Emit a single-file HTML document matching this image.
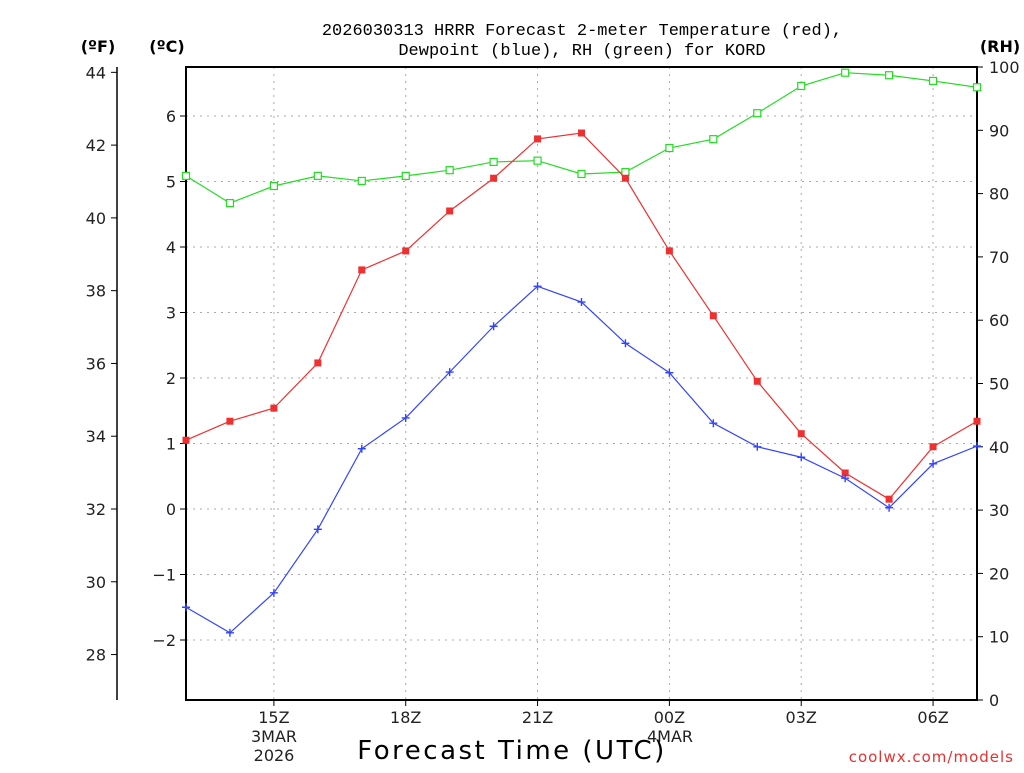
<!DOCTYPE html>
<html><head><meta charset="utf-8"><style>
body{margin:0;background:#fff;width:1024px;height:768px;overflow:hidden}
svg{font-family:"DejaVu Sans","Liberation Sans",sans-serif}
</style></head><body>
<svg id="c" width="1024" height="768" xmlns="http://www.w3.org/2000/svg">
<text x="582" y="35" font-size="17" font-family="Liberation Mono, monospace" text-anchor="middle">2026030313 HRRR Forecast 2-meter Temperature (red),</text>
<text x="582" y="55" font-size="17" font-family="Liberation Mono, monospace" text-anchor="middle">Dewpoint (blue), RH (green) for KORD</text>
<text x="98" y="52" font-size="16" font-weight="bold" text-anchor="middle">(ºF)</text>
<text x="167" y="52" font-size="16" font-weight="bold" text-anchor="middle">(ºC)</text>
<text x="1000" y="52" font-size="16" font-weight="bold" text-anchor="middle">(RH)</text>
<text x="512" y="759" font-size="26" text-anchor="middle" letter-spacing="2.5">Forecast Time (UTC)</text>
<text x="1014" y="762" font-size="15" fill="#e83030" text-anchor="end" letter-spacing="1">coolwx.com/models</text>
<g id="g"></g>
</svg>
<script>
const hours = [0,1,2,3,4,5,6,7,8,9,10,11,12,13,14,15,16,17,18];
const tempC = [1.05,1.34,1.54,2.23,3.65,3.94,4.55,5.05,5.65,5.74,5.05,3.94,2.95,1.95,1.15,0.55,0.15,0.95,1.34];
const dewC = [-1.5,-1.89,-1.28,-0.31,0.92,1.39,2.09,2.79,3.40,3.16,2.53,2.08,1.31,0.95,0.79,0.47,0.02,0.69,0.96];
const rh = [82.8,78.5,81.2,82.8,82.0,82.8,83.7,85.0,85.2,83.1,83.4,87.2,88.6,92.7,97.0,99.1,98.7,97.8,96.8];
const cTicks = [-2,-1,0,1,2,3,4,5,6];
const fTicks = [28,30,32,34,36,38,40,42,44];
const rhTicks = [0,10,20,30,40,50,60,70,80,90,100];
const xTickHours = [2,5,8,11,14,17];
const xTickLabels = ["15Z","18Z","21Z","00Z","03Z","06Z"];
const L=186,R=977,T=67,B=700;
const xs=h=>L+h*(R-L)/18;
const yc=c=>509-c*65.5;
const yf=f=>yc((f-32)*5/9);
const yr=r=>B-r*(B-T)/100;
const NS="http://www.w3.org/2000/svg";
const g=document.getElementById('g');
function mk(t,a){const e=document.createElementNS(NS,t);for(const k in a)e.setAttribute(k,a[k]);g.appendChild(e);return e;}
cTicks.forEach(c=>{const e=mk('line',{x1:L,x2:R,y1:yc(c),y2:yc(c),stroke:'#aaa','stroke-dasharray':'2,5'});

});
xTickHours.forEach((h,i)=>{const e=mk('line',{x1:xs(h),x2:xs(h),y1:T,y2:B,stroke:'#aaa','stroke-dasharray':'2,5'});


const t=mk('line',{x1:xs(h),x2:xs(h),y1:B,y2:B+6,stroke:'#000'});


const l=mk('text',{x:xs(h),y:723,'font-size':16,'text-anchor':'middle',fill:'#222'});l.textContent=xTickLabels[i];

});
[["3MAR",274,742],["2026",274,761],["4MAR",670,742]].forEach(d=>{const l=mk('text',{x:d[1],y:d[2],'font-size':16,'text-anchor':'middle',fill:'#222'});l.textContent=d[0];

});
cTicks.forEach(c=>{const t=mk('line',{x1:L-6,x2:L,y1:yc(c),y2:yc(c),stroke:'#000'});


const l=mk('text',{x:L-10,y:yc(c)+6,'font-size':16,'text-anchor':'end',fill:'#222'});l.textContent=c<0?'\u2212'+(-c):c;

});
const fa=mk('line',{x1:117,x2:117,y1:T,y2:B,stroke:'#000','stroke-width':1.5});


fTicks.forEach(f=>{const t=mk('line',{x1:111,x2:117,y1:yf(f),y2:yf(f),stroke:'#000'});


const l=mk('text',{x:106,y:yf(f)+6,'font-size':16,'text-anchor':'end',fill:'#222'});l.textContent=f;

});
rhTicks.forEach(r=>{const t=mk('line',{x1:R,x2:R+6,y1:yr(r),y2:yr(r),stroke:'#000'});


const l=mk('text',{x:989,y:yr(r)+6,'font-size':16,'text-anchor':'start',fill:'#222'});l.textContent=r;

});
const fr=mk('rect',{x:L,y:T,width:R-L,height:B-T,fill:'none',stroke:'#000','stroke-width':2});


function series(vals,yfn,col,name,marker){
 const p=mk('polyline',{points:vals.map((v,i)=>xs(hours[i])+','+yfn(v)).join(' '),fill:'none',stroke:col,'stroke-width':1.2});
 
 
 vals.forEach((v,i)=>{const x=xs(hours[i]),y=yfn(v);let m;
  if(marker==='fill')m=mk('rect',{x:x-3.5,y:y-3.5,width:7,height:7,fill:col});
  else if(marker==='hollow')m=mk('rect',{x:x-3.5,y:y-3.5,width:7,height:7,fill:'#fff',stroke:col,'stroke-width':1.2});
  else m=mk('path',{d:`M${x-4},${y}H${x+4}M${x},${y-4}V${y+4}`,stroke:col,'stroke-width':1.4});
  
  });
}
series(rh,yr,'#22dd22','rh','hollow');
series(tempC,yc,'#f03030','temperature','fill');
series(dewC,yc,'#3344ff','dewpoint','plus');
</script>
</body></html>
